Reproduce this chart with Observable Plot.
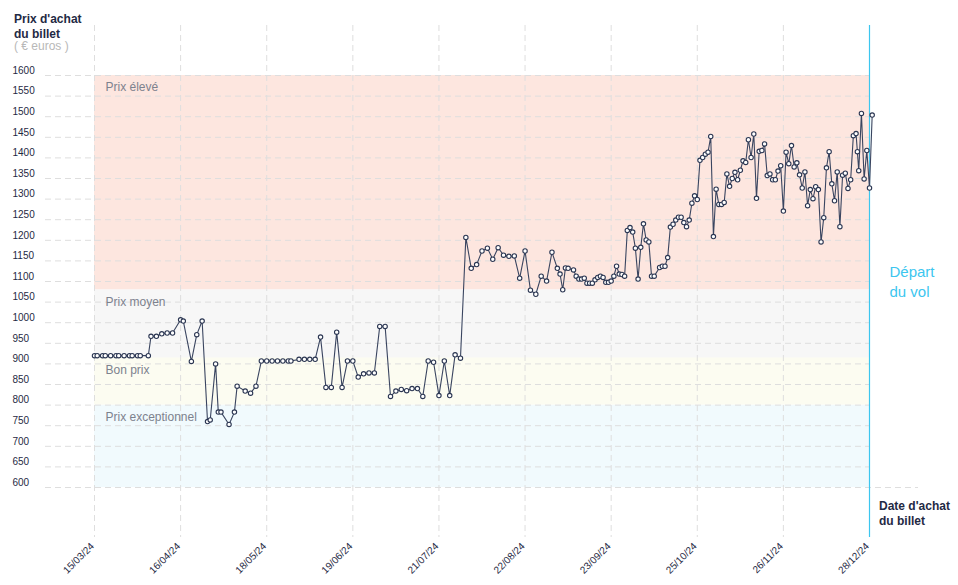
<!DOCTYPE html>
<html>
<head>
<meta charset="utf-8">
<script src="https://cdn.jsdelivr.net/npm/d3@7"></script>
<script src="https://cdn.jsdelivr.net/npm/@observablehq/plot@0.6"></script>
<style>
  html, body { margin: 0; padding: 0; background: #fff; }
  #wrap { position: relative; width: 958px; height: 585px; font-family: "Liberation Sans", Arial, sans-serif; }
  .lbl { position: absolute; white-space: nowrap; }
  .bold { font-weight: bold; font-size: 12px; color: #1f2a44; line-height: 14.5px; }
  .sub { font-size: 12px; color: #b8b8b8; }
</style>
</head>
<body>
<div id="wrap">
  <div class="lbl bold" style="left:14px; top:12px;">Prix d'achat<br>du billet</div>
  <div class="lbl sub" style="left:14px; top:39px;">( € euros )</div>
  <div class="lbl bold" style="left:879px; top:499px;">Date d'achat<br>du billet</div>
</div>
<script>
const dates = [
  "2024-03-15","2024-03-16","2024-03-18","2024-03-19","2024-03-21","2024-03-23","2024-03-24","2024-03-26","2024-03-28","2024-03-29",
  "2024-03-31","2024-04-01","2024-04-04","2024-04-05","2024-04-07","2024-04-09","2024-04-11","2024-04-13","2024-04-16","2024-04-17",
  "2024-04-20","2024-04-22","2024-04-24","2024-04-26","2024-04-27","2024-04-29","2024-04-30","2024-05-01","2024-05-04","2024-05-06",
  "2024-05-07","2024-05-10","2024-05-12","2024-05-14","2024-05-16","2024-05-18","2024-05-20","2024-05-22","2024-05-24","2024-05-26",
  "2024-05-27","2024-05-30","2024-06-01","2024-06-03","2024-06-05","2024-06-07","2024-06-09","2024-06-11","2024-06-13","2024-06-15",
  "2024-06-17","2024-06-19","2024-06-21","2024-06-23","2024-06-25","2024-06-27","2024-06-29","2024-07-01","2024-07-03","2024-07-05",
  "2024-07-07","2024-07-09","2024-07-11","2024-07-13","2024-07-15","2024-07-17","2024-07-19","2024-07-21","2024-07-23","2024-07-25",
  "2024-07-27","2024-07-29",
  "2024-07-31","2024-08-02","2024-08-04","2024-08-06","2024-08-08","2024-08-10","2024-08-12","2024-08-14","2024-08-16","2024-08-18",
  "2024-08-20","2024-08-22","2024-08-24","2024-08-26","2024-08-28","2024-08-30","2024-09-01","2024-09-03","2024-09-04","2024-09-05",
  "2024-09-06","2024-09-07","2024-09-09","2024-09-10","2024-09-11","2024-09-12","2024-09-13","2024-09-14","2024-09-15","2024-09-16",
  "2024-09-17","2024-09-18","2024-09-19","2024-09-20","2024-09-21","2024-09-22","2024-09-23","2024-09-24","2024-09-25","2024-09-26",
  "2024-09-27","2024-09-28","2024-09-29","2024-09-30","2024-10-01","2024-10-02","2024-10-03","2024-10-04","2024-10-05","2024-10-06",
  "2024-10-07","2024-10-08","2024-10-09","2024-10-11","2024-10-12","2024-10-13","2024-10-14",
  "2024-10-15","2024-10-16","2024-10-17","2024-10-18","2024-10-19","2024-10-20","2024-10-21","2024-10-22","2024-10-23","2024-10-24",
  "2024-10-25","2024-10-26","2024-10-27","2024-10-28","2024-10-29","2024-10-30","2024-10-31","2024-11-01","2024-11-02","2024-11-03",
  "2024-11-04","2024-11-05","2024-11-06","2024-11-07","2024-11-08","2024-11-09","2024-11-10","2024-11-11","2024-11-12","2024-11-13",
  "2024-11-14","2024-11-15","2024-11-16","2024-11-17","2024-11-18","2024-11-19","2024-11-20","2024-11-21","2024-11-22","2024-11-23",
  "2024-11-24","2024-11-25","2024-11-26","2024-11-27","2024-11-28","2024-11-29","2024-11-30","2024-12-01","2024-12-02","2024-12-03",
  "2024-12-04","2024-12-05","2024-12-06","2024-12-07","2024-12-08","2024-12-09","2024-12-10","2024-12-11","2024-12-12","2024-12-13",
  "2024-12-14","2024-12-15","2024-12-16","2024-12-17","2024-12-18","2024-12-19","2024-12-20","2024-12-21","2024-12-22","2024-12-23",
  "2024-12-23T12:00Z","2024-12-24","2024-12-25","2024-12-26","2024-12-27","2024-12-28","2024-12-29"
];
const prices = [
  920,920,920,920,920,920,920,920,920,920,
  920,920,920,967,967,973,975,975,1007,1004,
  906,971,1004,760,764,900,783,783,753,783,
  846,834,829,846,907,907,907,907,907,907,
  907,911,911,911,911,965,843,843,977,843,
  907,907,868,876,878,878,991,991,821,834,
  838,835,840,840,821,907,904,823,907,823,
  922,914,
  1207,1132,1141,1174,1181,1154,1182,1164,1161,1162,
  1108,1174,1079,1069,1113,1101,1171,1132,1118,1080,
  1133,1132,1128,1113,1106,1106,1108,1096,1096,1096,
  1104,1110,1113,1110,1098,1098,1101,1113,1137,1118,
  1117,1113,1224,1231,1220,1181,1106,1183,1240,1201,
  1196,1113,1113,1134,1137,1137,1158,
  1232,1239,1249,1256,1256,1243,1233,1249,1290,1308,
  1299,1394,1401,1409,1414,1452,1209,1324,1287,1287,
  1292,1361,1331,1350,1365,1347,1370,1393,1389,1444,
  1401,1458,1302,1416,1418,1434,1357,1361,1347,1347,
  1368,1381,1271,1414,1386,1430,1378,1388,1359,1327,
  1366,1284,1323,1301,1330,1323,1196,1255,1376,1415,
  1337,1296,1366,1233,1358,1363,1326,1347,1454,1459,
  1415,1369,1508,1349,1418,1327,1504
];
const xTicks = ["2024-03-15","2024-04-16","2024-05-18","2024-06-19","2024-07-21","2024-08-22","2024-09-23","2024-10-25","2024-11-26","2024-12-28"];
const yTicks = [600,650,700,750,800,850,900,950,1000,1050,1100,1150,1200,1250,1300,1350,1400,1450,1500,1550,1600];
const bandNames = ["Prix exceptionnel","Bon prix","Prix moyen","Prix élevé"];
const bandLow = [600,800,915,1080];
const bandHigh = [800,915,1080,1600];
const bandColors = ["#f1fafd","#fcfcf1","#f7f7f7","#fde6df"];
const departure = "2024-12-28";
const departureLabel = "Départ\ndu vol";

const parse = s => new Date(s);
const data = dates.map((d, i) => ({date: parse(d), price: prices[i]}));
const bands = bandNames.map((n, i) => ({name: n, lo: bandLow[i], hi: bandHigh[i], color: bandColors[i]}));
const tickDates = xTicks.map(parse);
const depDate = parse(departure);
const ink = "#1f2a44";
const gridColor = "#dedede";

const chart = Plot.plot({
  width: 958,
  height: 585,
  marginLeft: 94,
  marginRight: 89,
  marginTop: 75,
  marginBottom: 98,
  style: {fontFamily: "'Liberation Sans', Arial, sans-serif", background: "transparent", overflow: "visible"},
  x: {type: "utc", domain: [tickDates[0], tickDates[tickDates.length - 1]]},
  y: {domain: [600, 1600]},
  marks: [
    Plot.rect(bands, {y1: "lo", y2: "hi", fill: "color"}),
    Plot.ruleY(yTicks.filter(v => v !== 600), {y: d => d, stroke: gridColor, strokeDasharray: "6,4", insetLeft: -49}),
    Plot.ruleY([600], {y: d => d, stroke: gridColor, strokeDasharray: "6,4", insetLeft: -49, insetRight: -49}),
    Plot.ruleX(tickDates.slice(0, -1), {x: d => d, stroke: gridColor, strokeDasharray: "6,4", insetTop: -50, insetBottom: -50}),
    Plot.ruleX([depDate], {x: d => d, stroke: "#3cc6ef", strokeWidth: 1.2, insetTop: -50, insetBottom: -50}),
    Plot.text(bands, {y: "hi", text: "name", frameAnchor: "left", textAnchor: "start", dx: 11, dy: 12, fontSize: 12, fill: "#7d828e"}),
    Plot.text(yTicks, {y: d => d, text: d => String(d), frameAnchor: "left", textAnchor: "start", dx: -82, dy: -5, fontSize: 10, fill: ink, letterSpacing: "-0.3px"}),
    Plot.text([departureLabel], {x: () => depDate, frameAnchor: "top", text: d => d, textAnchor: "start", lineAnchor: "top", dx: 20, dy: 187, fontSize: 15, fill: "#3cc6ef", lineHeight: 1.35}),
    Plot.line(data, {x: "date", y: "price", stroke: "#3a4560", strokeWidth: 1.1}),
    Plot.dot(data, {x: "date", y: "price", r: 2.2, fill: "white", stroke: "#2b3652", strokeWidth: 1.1}),
    Plot.axisX(tickDates, {tickRotate: -45, tickSize: 0, tickPadding: 57, dx: -2, tickFormat: d3.utcFormat("%d/%m/%y"), fontSize: 10, fill: ink, label: null}),
    Plot.axisY({ticks: [], label: null, tickSize: 0})
  ]
});
document.getElementById("wrap").prepend(chart);
chart.style.position = "absolute";
chart.style.left = "0";
chart.style.top = "0";
</script>
</body>
</html>
